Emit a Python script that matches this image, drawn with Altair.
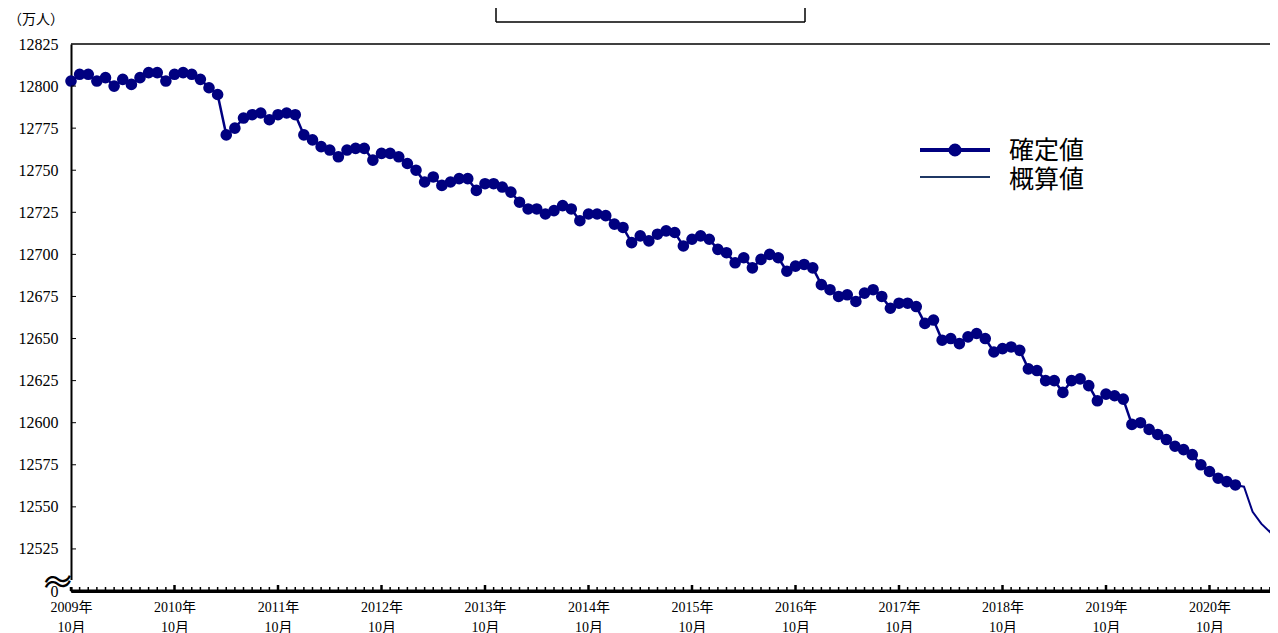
import altair as alt
import pandas as pd

# month index 0 = 2009年10月 ; values in 万人
conf_2009 = [12803, 12807, 12807, 12803, 12805, 12800, 12804, 12801, 12805, 12808, 12808, 12803]
conf_2010 = [12807, 12808, 12807, 12804, 12799, 12795, 12771, 12775, 12781, 12783, 12784, 12780]
conf_2011 = [12783, 12784, 12783, 12771, 12768, 12764, 12762, 12758, 12762, 12763, 12763, 12756]
conf_2012 = [12760, 12760, 12758, 12754, 12750, 12743, 12746, 12741, 12743, 12745, 12745, 12738]
conf_2013 = [12742, 12742, 12740, 12737, 12731, 12727, 12727, 12724, 12726, 12729, 12727, 12720]
conf_2014 = [12724, 12724, 12723, 12718, 12716, 12707, 12711, 12708, 12712, 12714, 12713, 12705]
conf_2015 = [12709, 12711, 12709, 12703, 12701, 12695, 12698, 12692, 12697, 12700, 12698, 12690]
conf_2016 = [12693, 12694, 12692, 12682, 12679, 12675, 12676, 12672, 12677, 12679, 12675, 12668]
conf_2017 = [12671, 12671, 12669, 12659, 12661, 12649, 12650, 12647, 12651, 12653, 12650, 12642]
conf_2018 = [12644, 12645, 12643, 12632, 12631, 12625, 12625, 12618, 12625, 12626, 12622, 12613]
conf_2019 = [12617, 12616, 12614, 12599, 12600, 12596, 12593, 12590, 12586, 12584, 12581, 12575]
conf_2020 = [12571, 12567, 12565, 12563]
est_start = 135
est_values = [12563, 12562, 12547, 12540, 12535, 12547]

y_ticks = [12500, 12525, 12550, 12575, 12600, 12625, 12650, 12675, 12700, 12725, 12750, 12775, 12800, 12825]
x_label_months = [0, 12, 24, 36, 48, 60, 72, 84, 96, 108, 120, 132]
first_year = 2009

NAVY = "#000080"
W, H = 1199, 547          # plot area; the page is 1262 px wide inside its margins
PX_PER_MONTH = 8.625
XMAX = W / PX_PER_MONTH   # visible months inside the svg
FULL_W = 1207             # plot continues to the window edge
NUM_FONT = "Liberation Serif, Noto Sans CJK JP"
JP_FONT = "Noto Sans CJK JP"

conf = (conf_2009 + conf_2010 + conf_2011 + conf_2012 + conf_2013 + conf_2014 +
        conf_2015 + conf_2016 + conf_2017 + conf_2018 + conf_2019 + conf_2020)
df_conf = pd.DataFrame({"m": list(range(len(conf))), "v": conf})
df_est = pd.DataFrame({"m": list(range(est_start, est_start + len(est_values))), "v": est_values})
all_months = list(range(0, 140))
df_months = pd.DataFrame({"m": [m for m in all_months if m % 12 != 0]})
df_octs = pd.DataFrame({"m": [m for m in all_months if m % 12 == 0]})
df_yt = pd.DataFrame({"v": y_ticks[1:-1]})
one = pd.DataFrame({"a": [0]})

xscale = alt.Scale(domain=[0, XMAX], nice=False, zero=False)
yscale = alt.Scale(domain=[12500, 12825], nice=False, zero=False)

x_axis = alt.Axis(
    values=x_label_months, ticks=False, grid=False, domainColor="black", domainWidth=3,
    labelExpr=f"[format({first_year} + floor(datum.value / 12), 'd') + '年', '10月']",
    labelFont=NUM_FONT, labelFontSize=14, labelColor="black", labelLineHeight=20,
    labelPadding=9, labelFlush=False, labelOverlap=False, labelBound=False, title=None,
)
y_axis = alt.Axis(
    values=y_ticks, ticks=False, grid=False, domainColor="black", domainWidth=2,
    labelExpr="datum.value == 12500 ? '0' : format(datum.value, 'd')",
    labelFont=NUM_FONT, labelFontSize=16, labelColor="black", labelPadding=13,
    labelOverlap=False, title=None,
)

X = alt.X("m:Q", scale=xscale, axis=x_axis)
Y = alt.Y("v:Q", scale=yscale, axis=y_axis)

line_conf = alt.Chart(df_conf).mark_line(color=NAVY, strokeWidth=2.5).encode(x=X, y=Y)
pts_conf = alt.Chart(df_conf).mark_circle(color=NAVY, size=135, opacity=1).encode(x=X, y=Y)
line_est = alt.Chart(df_est).mark_line(color=NAVY, strokeWidth=2).encode(x=X, y=Y)

month_ticks = alt.Chart(df_months).mark_rule(color="black", strokeWidth=1.5).encode(
    x=alt.X("m:Q", scale=xscale), y=alt.value(H), y2=alt.value(H - 4),
)
oct_ticks = alt.Chart(df_octs).mark_rule(color="black", strokeWidth=2.5).encode(
    x=alt.X("m:Q", scale=xscale), y=alt.value(H), y2=alt.value(H - 6),
)
ytick_marks = alt.Chart(df_yt).mark_rule(color="black", strokeWidth=1).encode(
    y=alt.Y("v:Q", scale=yscale), x=alt.value(0), x2=alt.value(5)
)
top_border = alt.Chart(one).mark_rule(color="black", strokeWidth=1.5).encode(
    x=alt.value(0), x2=alt.value(FULL_W), y=alt.value(0)
)
bottom_ext = alt.Chart(one).mark_rule(color="black", strokeWidth=3).encode(
    x=alt.value(0), x2=alt.value(FULL_W), y=alt.value(H)
)

unit = alt.Chart(one).mark_text(font=JP_FONT, fontSize=14, align="left", baseline="middle", color="black").encode(
    x=alt.value(-63), y=alt.value(-24), text=alt.value("（万人）")
)
# axis break
gap = alt.Chart(one).mark_rule(color="white", strokeWidth=6).encode(
    x=alt.value(0), y=alt.value(H - 11), y2=alt.value(H - 4)
)
wave1 = alt.Chart(one).mark_text(font=JP_FONT, fontSize=29, align="center", baseline="middle", color="black", angle=352).encode(
    x=alt.value(-13), y=alt.value(H - 10), text=alt.value("〜")
)
wave2 = alt.Chart(one).mark_text(font=JP_FONT, fontSize=29, align="center", baseline="middle", color="black", angle=352).encode(
    x=alt.value(-13), y=alt.value(H - 5), text=alt.value("〜")
)

# title box (mostly above the visible page)
box_l = alt.Chart(one).mark_rule(color="black", strokeWidth=1.5).encode(x=alt.value(425), y=alt.value(-60), y2=alt.value(-22))
box_r = alt.Chart(one).mark_rule(color="black", strokeWidth=1.5).encode(x=alt.value(734), y=alt.value(-60), y2=alt.value(-22))
box_b = alt.Chart(one).mark_rule(color="black", strokeWidth=1.5).encode(x=alt.value(425), x2=alt.value(734), y=alt.value(-22))
title = alt.Chart(one).mark_text(font=JP_FONT, fontSize=30, fontWeight="bold", align="center", baseline="alphabetic", color="black").encode(
    x=alt.value(579.5), y=alt.value(-43), text=alt.value("総人口の推移")
)

# legend
leg1_line = alt.Chart(one).mark_rule(color=NAVY, strokeWidth=4).encode(x=alt.value(849), x2=alt.value(919), y=alt.value(106))
leg1_pt = alt.Chart(one).mark_circle(color=NAVY, size=170, opacity=1).encode(x=alt.value(884), y=alt.value(106))
leg1_txt = alt.Chart(one).mark_text(font=JP_FONT, fontSize=25, align="left", baseline="middle", color="black").encode(
    x=alt.value(938), y=alt.value(107), text=alt.value("確定値")
)
leg2_line = alt.Chart(one).mark_rule(color="#1F3864", strokeWidth=2).encode(x=alt.value(849), x2=alt.value(919), y=alt.value(133))
leg2_txt = alt.Chart(one).mark_text(font=JP_FONT, fontSize=25, align="left", baseline="middle", color="black").encode(
    x=alt.value(938), y=alt.value(136), text=alt.value("概算値")
)

chart = alt.layer(
    line_conf, line_est, pts_conf, month_ticks, oct_ticks, ytick_marks, top_border, bottom_ext,
    unit, gap, wave1, wave2,
    box_l, box_r, box_b, title, leg1_line, leg1_pt, leg1_txt, leg2_line, leg2_txt,
).properties(
    width=W, height=H,
    padding={"left": 63, "top": 36, "right": 0, "bottom": 42},
    autosize=alt.AutoSizeParams(type="none"),
    background="white",
).configure_view(stroke=None)

chart.save("out.html", embed_options={"renderer": "svg", "actions": False})
